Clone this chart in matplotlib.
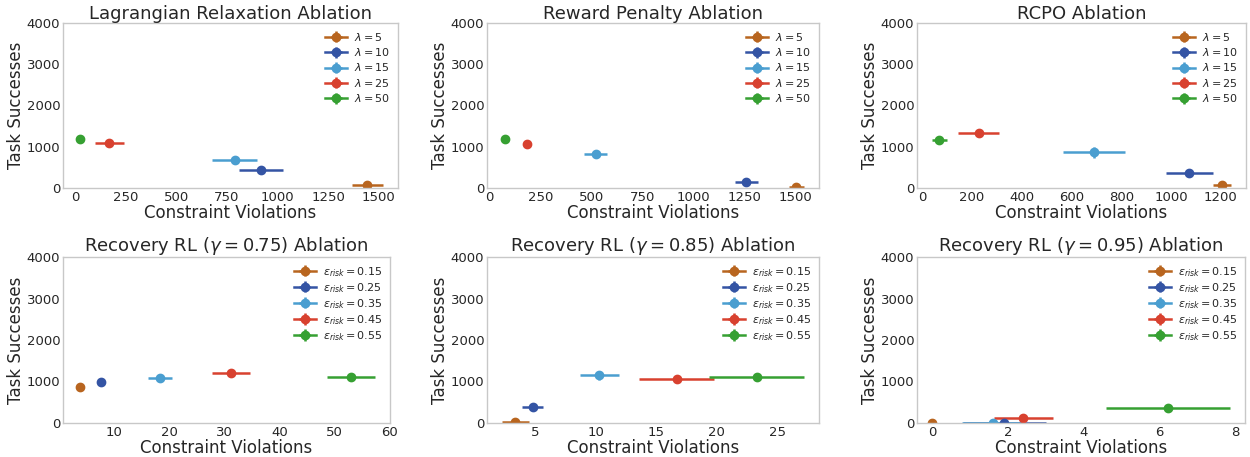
import matplotlib
matplotlib.use('Agg')
import matplotlib.pyplot as plt

plt.rcParams['font.family'] = 'DejaVu Sans'
plt.rcParams['mathtext.fontset'] = 'dejavusans'
plt.rcParams['text.color'] = '#262626'
plt.rcParams['axes.labelcolor'] = '#262626'
plt.rcParams['xtick.color'] = '#262626'
plt.rcParams['ytick.color'] = '#262626'

COLORS = ['#B8651F', '#3454A4', '#4A9ED0', '#D8412F', '#36A032']

LAMBDA_LABELS = [r'$\lambda = 5$', r'$\lambda = 10$', r'$\lambda = 15$',
                 r'$\lambda = 25$', r'$\lambda = 50$']
EPS_LABELS = [r'$\varepsilon_{risk} = 0.15$', r'$\varepsilon_{risk} = 0.25$',
              r'$\varepsilon_{risk} = 0.35$', r'$\varepsilon_{risk} = 0.45$',
              r'$\varepsilon_{risk} = 0.55$']

# Lagrangian relaxation
lagr_x = [1443, 916, 787, 169, 23]
lagr_xerr = [76, 109, 110, 70, 8]
lagr_y = [81, 436, 679, 1083, 1196]
lagr_yerr = [25, 30, 35, 30, 40]

# Reward penalty
rp_x = [1503, 1258, 521, 183, 75]
rp_xerr = [37, 55, 57, 8, 12]
rp_y = [15, 137, 830, 1075, 1188]
rp_yerr = [15, 30, 40, 30, 30]

# RCPO
rcpo_x = [1205, 1073, 691, 227, 70]
rcpo_xerr = [36, 94, 123, 84, 30]
rcpo_y = [81, 356, 865, 1333, 1172]
rcpo_yerr = [30, 40, 140, 50, 60]

# Recovery RL, gamma = 0.75
rrl75_x = [3.83, 7.68, 18.3, 31.2, 53.0]
rrl75_xerr = [0.4, 0.5, 2.2, 3.5, 4.4]
rrl75_y = [863, 992, 1081, 1194, 1105]
rrl75_yerr = [60, 90, 50, 50, 40]

# Recovery RL, gamma = 0.85
rrl85_x = [3.38, 4.81, 10.3, 16.7, 23.3]
rrl85_xerr = [1.1, 0.85, 1.6, 3.1, 3.9]
rrl85_y = [15, 387, 1145, 1065, 1113]
rrl85_yerr = [20, 50, 120, 30, 40]

# Recovery RL, gamma = 0.95
rrl95_x = [0.0, 1.91, 1.6, 2.41, 6.22]
rrl95_xerr = [0.0, 1.1, 0.8, 0.77, 1.64]
rrl95_y = [0, 5, 5, 121, 363]
rrl95_yerr = [0, 10, 10, 40, 30]

PANELS = [
    ('Lagrangian Relaxation Ablation', lagr_x, lagr_xerr, lagr_y, lagr_yerr, LAMBDA_LABELS),
    ('Reward Penalty Ablation', rp_x, rp_xerr, rp_y, rp_yerr, LAMBDA_LABELS),
    ('RCPO Ablation', rcpo_x, rcpo_xerr, rcpo_y, rcpo_yerr, LAMBDA_LABELS),
    (r'Recovery RL ($\gamma = 0.75$) Ablation', rrl75_x, rrl75_xerr, rrl75_y, rrl75_yerr, EPS_LABELS),
    (r'Recovery RL ($\gamma = 0.85$) Ablation', rrl85_x, rrl85_xerr, rrl85_y, rrl85_yerr, EPS_LABELS),
    (r'Recovery RL ($\gamma = 0.95$) Ablation', rrl95_x, rrl95_xerr, rrl95_y, rrl95_yerr, EPS_LABELS),
]

# axes boxes in pixels (left, top, right, bottom) measured on the 1250x457 canvas
BOXES = [(63, 23, 398, 188), (487, 23, 819, 188), (917, 23, 1246, 188),
         (63, 257, 390, 423), (487, 257, 819, 423), (917, 257, 1245, 423)]

W, H = 1250, 457
fig, axes = plt.subplots(2, 3, figsize=(W / 100, H / 100), dpi=100)

for ax, box, (title, xs, xerrs, ys, yerrs, labels) in zip(axes.flat, BOXES, PANELS):
    l, t, r, b = box
    ax.set_position([l / W, 1 - b / H, (r - l) / W, (b - t) / H])
    for i in range(len(xs)):
        ax.errorbar(xs[i], ys[i], xerr=xerrs[i], yerr=yerrs[i], fmt='-o',
                    color=COLORS[i], markersize=6, elinewidth=1.8, linewidth=1.8,
                    capsize=0, label=labels[i])
    ax.set_ylim(0, 4000)
    ax.set_yticks([0, 1000, 2000, 3000, 4000])
    ax.set_title(title, fontsize=13, pad=2)
    ax.set_xlabel('Constraint Violations', fontsize=12, labelpad=0)
    ax.set_ylabel('Task Successes', fontsize=12, labelpad=1)
    ax.tick_params(length=0, labelsize=9.5, pad=2)
    for sp in ax.spines.values():
        sp.set_color('#c8c8c8')
        sp.set_linewidth(1)
    spacing = 0.3 if labels is LAMBDA_LABELS else 0.2
    ax.legend(loc='upper right', frameon=False, fontsize=8,
              labelspacing=spacing, handletextpad=0.6, borderaxespad=0.3)

fig.savefig('out.png', dpi=100)
